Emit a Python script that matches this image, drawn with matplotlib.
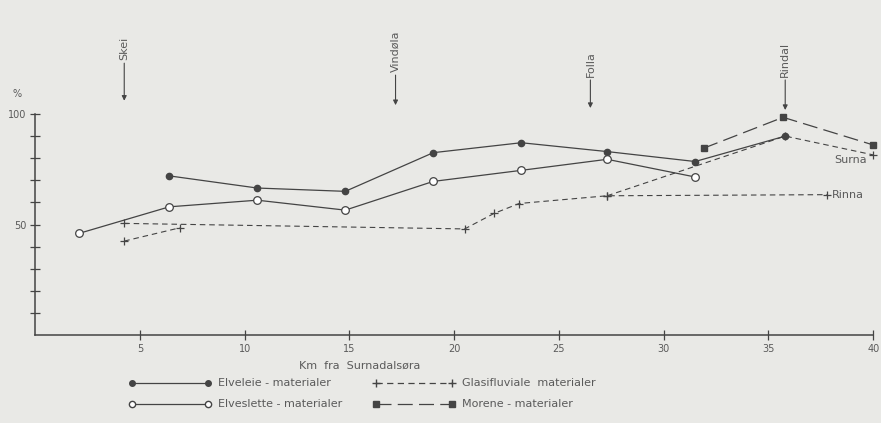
import matplotlib.pyplot as plt
from matplotlib.lines import Line2D

# Elveleie-materialer (filled circles, solid)
elveleie_km = [6.4, 10.6, 14.8, 19.0, 23.2, 27.3, 31.5, 35.8]
elveleie_pct = [72, 66.5, 65, 82.5, 87, 83, 78.5, 90]

# Elveslette-materialer (open circles, solid)
elveslette_km = [2.1, 6.4, 10.6, 14.8, 19.0, 23.2, 27.3, 31.5]
elveslette_pct = [46, 58, 61, 56.5, 69.5, 74.5, 79.5, 71.5]

# Glasifluviale materialer (+, short dashes), three branches
glasi_rinna_km = [4.25, 20.5, 21.9, 23.1, 27.3, 37.8]
glasi_rinna_pct = [50.5, 48, 55, 59.5, 63, 63.5]
glasi_skei_km = [4.25, 6.9]
glasi_skei_pct = [42.5, 48.5]
glasi_surna_km = [27.3, 35.8, 40.0]
glasi_surna_pct = [63, 90, 81.5]

# Morene-materialer (squares, long dashes)
morene_km = [31.9, 35.7, 40.0]
morene_pct = [84.5, 98.5, 86]

# place markers along the valley
places = ['Skei', 'Vindøla', 'Folla', 'Rindal']
place_km = [4.25, 17.2, 26.5, 35.8]
arrow_tail = [123, 117.6, 115.4, 115.4]
arrow_head = [106, 104, 102.7, 101.8]

x_ticks = [5, 10, 15, 20, 25, 30, 35, 40]
y_ticks = [10, 20, 30, 40, 50, 60, 70, 80, 90, 100]
y_labels = ['', '', '', '', '50', '', '', '', '', '100']

bg = '#e9e9e6'
ink = '#444444'
txt = '#5a5a5a'

fig = plt.figure(figsize=(8.81, 4.23), dpi=100, facecolor=bg)
ax = fig.add_axes([35.2 / 881, 88 / 423, 838 / 881, 331.5 / 423])
ax.set_facecolor(bg)
ax.set_xlim(0, 40)
ax.set_ylim(0, 150)

ax.plot(elveleie_km, elveleie_pct, '-', color=ink, lw=0.9, marker='o', ms=4.5,
        mfc=ink, mec=ink, clip_on=False)
ax.plot(elveslette_km, elveslette_pct, '-', color=ink, lw=0.9, marker='o', ms=5.5,
        mfc='white', mec=ink, mew=0.9, clip_on=False)
for xs, ys in [(glasi_rinna_km, glasi_rinna_pct), (glasi_skei_km, glasi_skei_pct),
               (glasi_surna_km, glasi_surna_pct)]:
    ax.plot(xs, ys, color=ink, lw=0.8, dashes=(5, 3.5), marker='+', ms=6, mew=0.9,
            clip_on=False)
ax.plot(morene_km, morene_pct, color=ink, lw=0.9, dashes=(12, 5), marker='s', ms=4.5,
        mfc=ink, mec=ink, clip_on=False)

ax.text(glasi_rinna_km[-1] + 0.25, glasi_rinna_pct[-1], 'Rinna', color=txt, fontsize=8,
        ha='left', va='center')
ax.text(glasi_surna_km[-1] - 0.3, glasi_surna_pct[-1] - 2.5, 'Surna', color=txt, fontsize=8,
        ha='right', va='center')

for name, km, t, h in zip(places, place_km, arrow_tail, arrow_head):
    ax.annotate('', xy=(km, h), xytext=(km, t),
                arrowprops=dict(arrowstyle='-|>', lw=0.8, color=ink, mutation_scale=7,
                                shrinkA=0, shrinkB=0))
    ax.text(km, t + 1.5, name, rotation=90, color=txt, fontsize=8, ha='center', va='bottom')

for s in ['top', 'right']:
    ax.spines[s].set_visible(False)
ax.spines['left'].set_bounds(0, 100)
ax.spines['bottom'].set_bounds(0, 40)
for s in ['left', 'bottom']:
    ax.spines[s].set_color(ink)
    ax.spines[s].set_linewidth(1.1)

ax.set_xticks(x_ticks)
ax.set_xticklabels([str(v) for v in x_ticks])
ax.set_yticks(y_ticks)
ax.set_yticklabels(y_labels)
ax.tick_params(direction='inout', length=7, width=0.9, color=ink, labelcolor=txt,
               labelsize=7, pad=3)
ax.text(-0.85, 109, '%', color=txt, fontsize=7, ha='center', va='center')

fig.text(360 / 881, 1 - 366 / 423, 'Km  fra  Surnadalsøra', color=txt, fontsize=8,
         ha='center', va='center')

# legend drawn by hand, two columns
legend_rows = [
    (132, 208, 218, 383, dict(ls='-', marker='o', ms=4, mfc=ink), 'Elveleie - materialer'),
    (132, 208, 218, 404, dict(ls='-', marker='o', ms=4.5, mfc='white'), 'Elveslette - materialer'),
    (376, 452, 462, 383, dict(dashes=(5, 3.5), marker='+', ms=6), 'Glasifluviale  materialer'),
    (376, 452, 462, 404, dict(dashes=(12, 5), marker='s', ms=4, mfc=ink), 'Morene - materialer'),
]
for x0, x1, xt, y, style, label in legend_rows:
    yy = 1 - y / 423
    fig.add_artist(Line2D([x0 / 881, x1 / 881], [yy, yy], transform=fig.transFigure,
                          color=ink, lw=0.9, mec=ink, **style))
    fig.text(xt / 881, yy, label, color=txt, fontsize=8, ha='left', va='center')

fig.savefig('out.png', dpi=100, facecolor=bg)
